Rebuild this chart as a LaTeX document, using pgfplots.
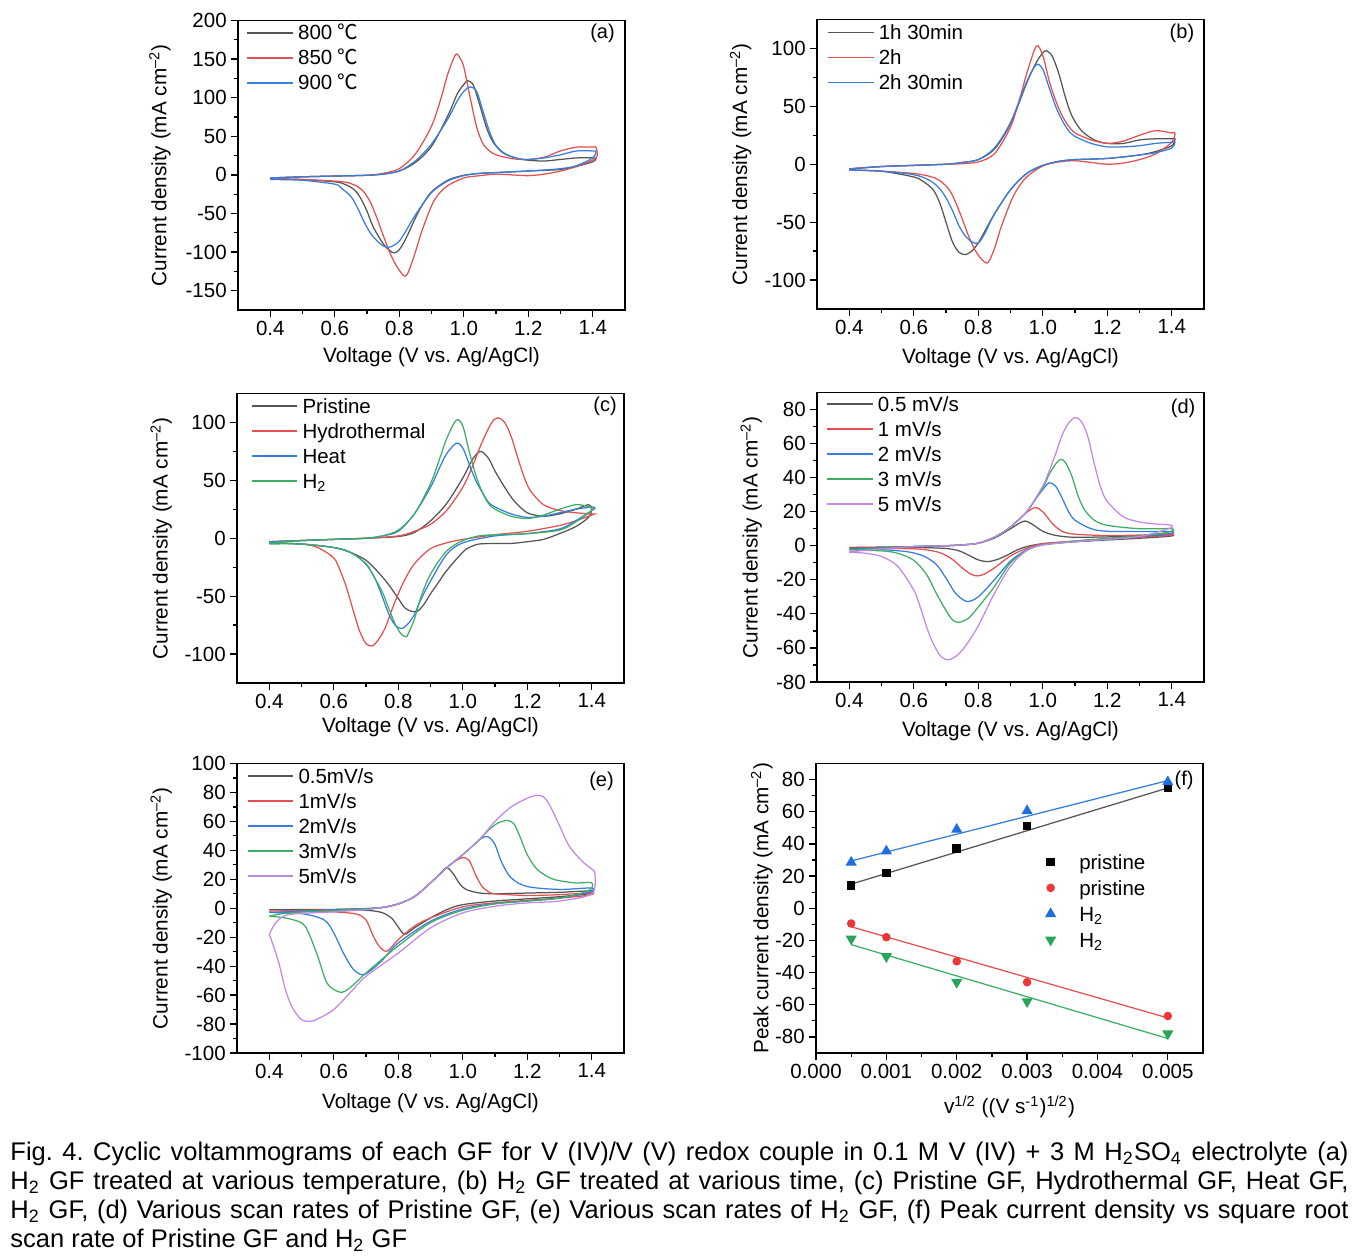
\documentclass[border=0pt]{standalone}
\usepackage{fontspec}
\setmainfont{Liberation Sans}
\newfontfamily\cjk{Noto Sans CJK SC}
\usepackage{pgfplots}
\pgfplotsset{compat=1.18}
\newlength\px \setlength\px{0.4pt}
\frenchspacing
\definecolor{cgray}{RGB}{85,85,85}
\definecolor{cred}{RGB}{228,80,80}
\definecolor{cblue}{RGB}{55,125,220}
\definecolor{cgreen}{RGB}{60,175,100}
\definecolor{cviolet}{RGB}{195,135,230}
\definecolor{mred}{RGB}{235,55,55}
\definecolor{mblue}{RGB}{30,110,225}
\definecolor{mgreen}{RGB}{40,165,90}
\tikzset{plabel/.style={font=\fontsize{8}{9.6}\selectfont, anchor=center}}
\newcommand{\degc}{\hspace{2pt}{\cjk ℃}}
\pgfplotsset{
  panel/.style={
    scale only axis, width=387\px, height=289.5\px, anchor=south west,
    tick pos=left, tick align=outside,
    major tick length=7\px, minor tick length=4\px,
    axis line style={line width=0.5pt},
    every tick/.append style={line width=0.5pt, black},
    tick label style={font=\fontsize{8.2}{9.8}\selectfont},
    xticklabel style={yshift=5\px},
    yticklabel style={xshift=4.5\px},
    label style={font=\fontsize{8.3}{10}\selectfont},
    /pgf/number format/assume math mode=true,
    legend cell align=left,
    legend style={draw=none, fill=none, inner sep=0pt, outer sep=0pt,
      anchor=north west, row sep=3.7pt, column sep=1.8pt,
      nodes={inner sep=0pt, text height=6pt, text depth=0.3pt},
      font=\fontsize{8.2}{9.8}\selectfont},
    legend image code/.code={\draw[##1, line width=0.6pt] (0pt,0pt) -- (45.5\px,0pt);},
    every axis plot/.append style={line width=0.5pt, smooth, tension=0.5},
  },
  cv/.style={panel,
    xmin=0.3, xmax=1.5, xtick={0.4,0.6,0.8,1.0,1.2,1.4},
    xticklabels={0.4,0.6,0.8,1.0,1.2,1.4}, minor x tick num=1,
    xlabel={Voltage (V vs. Ag/AgCl)},
    ylabel={Current density (mA cm\textsuperscript{--2})},
  },
}
\begin{document}
\begin{tikzpicture}
\path[use as bounding box] (0pt,0pt) rectangle (1366\px,1259\px);

% ---------------- (a)
\begin{axis}[cv, at={(238\px,949\px)},
  ymin=-175, ymax=200, ytick={-150,-100,-50,0,50,100,150,200}, minor y tick num=1,
  xlabel style={at={(axis description cs:0.5,-0.1615)}, anchor=center},
  ylabel style={at={(axis description cs:-0.2016,0.5)}, anchor=center},
  legend style={at={(axis description cs:0,1)}, xshift=8.7\px, yshift=-4.4\px}]
\addplot[cgray] coordinates {(0.40,-4) (0.50,-2.5) (0.60,-1.5) (0.70,-0.5) (0.75,1) (0.80,5) (0.85,16) (0.90,37) (0.95,76) (0.98,105) (1.00,117) (1.013,122) (1.03,116) (1.05,90) (1.07,62) (1.09,43) (1.12,29) (1.16,22) (1.20,19) (1.25,18) (1.30,20) (1.35,22) (1.40,22) (1.41,21)
 (1.40,17) (1.35,11) (1.30,7) (1.20,5) (1.10,3) (1.05,2) (1.00,-0.5) (0.95,-7) (0.90,-22) (0.87,-40) (0.85,-56) (0.82,-83) (0.80,-97) (0.785,-101) (0.77,-98) (0.75,-89) (0.72,-68) (0.70,-47) (0.68,-30) (0.66,-19) (0.63,-12) (0.60,-9) (0.50,-6) (0.40,-5)};
\addlegendentry{800\degc}
\addplot[cred] coordinates {(0.40,-4) (0.50,-2.5) (0.60,-1.5) (0.70,-0.5) (0.75,2) (0.80,8) (0.85,27) (0.90,63) (0.93,100) (0.95,130) (0.975,156) (0.99,150) (1.00,140) (1.02,100) (1.04,62) (1.06,40) (1.08,31) (1.10,26) (1.15,21) (1.20,20) (1.25,23) (1.30,31) (1.35,36) (1.40,36) (1.41,36)
 (1.41,22) (1.35,11) (1.30,5) (1.25,1) (1.20,-1) (1.15,0) (1.10,1) (1.05,-1) (1.00,-4) (0.95,-14) (0.92,-26) (0.90,-40) (0.87,-73) (0.85,-100) (0.83,-124) (0.82,-131) (0.81,-129) (0.79,-117) (0.77,-100) (0.75,-78) (0.73,-55) (0.71,-35) (0.69,-22) (0.67,-15) (0.64,-10) (0.60,-8) (0.50,-6) (0.40,-5)};
\addlegendentry{850\degc}
\addplot[cblue] coordinates {(0.40,-4) (0.50,-2.5) (0.60,-1.5) (0.70,-0.5) (0.75,1) (0.80,5) (0.85,18) (0.90,40) (0.95,72) (0.98,96) (1.00,108) (1.02,114) (1.04,108) (1.06,82) (1.08,56) (1.10,38) (1.13,27) (1.17,21) (1.20,20) (1.25,22) (1.30,26) (1.35,31) (1.40,31) (1.41,30)
 (1.40,22) (1.35,12) (1.30,8) (1.20,5) (1.10,3) (1.05,2) (1.00,-1) (0.95,-8) (0.90,-23) (0.85,-52) (0.82,-73) (0.80,-86) (0.78,-92) (0.765,-94) (0.75,-92) (0.73,-85) (0.71,-75) (0.69,-60) (0.67,-42) (0.65,-28) (0.62,-17) (0.60,-12) (0.50,-7) (0.40,-6)};
\addlegendentry{900\degc}
\node[plabel] at (rel axis cs:0.942,0.957) {(a)};
\end{axis}

% ---------------- (b)
\begin{axis}[cv, at={(817\px,950\px)},
  ymin=-125, ymax=125, ytick={-100,-50,0,50,100}, minor y tick num=1,
  xlabel style={at={(axis description cs:0.5,-0.17)}, anchor=center},
  ylabel style={at={(axis description cs:-0.197,0.5)}, anchor=center},
  legend style={at={(axis description cs:0,1)}, xshift=10.3\px, yshift=-5.1\px}]
\addplot[cgray] coordinates {(0.40,-4) (0.50,-2) (0.60,-1) (0.70,0) (0.75,1.5) (0.80,4) (0.85,13) (0.90,35) (0.95,70) (0.98,88) (1.00,96) (1.012,98) (1.03,93) (1.05,78) (1.07,58) (1.09,42) (1.12,29) (1.16,21) (1.20,18) (1.25,18) (1.30,21) (1.35,22) (1.40,22) (1.41,22)
 (1.40,16) (1.35,11) (1.30,8) (1.20,5) (1.10,4) (1.05,2.5) (1.00,-1) (0.95,-8) (0.90,-22) (0.85,-43) (0.82,-58) (0.80,-68) (0.78,-75) (0.76,-78) (0.74,-76) (0.72,-67) (0.70,-50) (0.68,-33) (0.66,-22) (0.63,-15) (0.60,-11) (0.50,-6) (0.40,-5)};
\addlegendentry{1h 30min}
\addplot[cred] coordinates {(0.40,-4) (0.50,-2) (0.60,-1) (0.70,0) (0.75,0.5) (0.80,2) (0.85,9) (0.90,32) (0.93,58) (0.95,78) (0.98,102) (1.00,94) (1.02,72) (1.04,55) (1.06,42) (1.08,33) (1.10,27) (1.15,21) (1.20,18) (1.25,20) (1.30,25) (1.35,29) (1.40,27) (1.41,27)
 (1.40,19) (1.35,9) (1.30,4) (1.25,1) (1.20,0) (1.15,1.5) (1.10,3) (1.05,2) (1.00,-1.5) (0.95,-11) (0.92,-22) (0.90,-33) (0.87,-55) (0.85,-73) (0.83,-85) (0.81,-82) (0.79,-74) (0.77,-62) (0.75,-47) (0.73,-33) (0.71,-22) (0.68,-14) (0.65,-10.5) (0.60,-8) (0.50,-6) (0.40,-5)};
\addlegendentry{2h}
\addplot[cblue] coordinates {(0.40,-4) (0.50,-2) (0.60,-1) (0.70,0) (0.75,1.5) (0.80,4) (0.85,14) (0.90,36) (0.95,71) (0.98,86) (1.00,82) (1.02,66) (1.04,50) (1.06,38) (1.08,29) (1.10,24) (1.15,18) (1.20,15) (1.25,15) (1.30,16) (1.35,18) (1.40,19) (1.41,19)
 (1.40,14) (1.35,10) (1.30,8) (1.20,5) (1.10,4) (1.05,2.5) (1.00,-1) (0.95,-8) (0.90,-22) (0.85,-43) (0.82,-60) (0.80,-68) (0.78,-67) (0.76,-62) (0.74,-53) (0.72,-40) (0.70,-29) (0.68,-21) (0.65,-14) (0.60,-9) (0.50,-6) (0.40,-5)};
\addlegendentry{2h 30min}
\node[plabel] at (rel axis cs:0.943,0.952) {(b)};
\end{axis}

% ---------------- (c)
\begin{axis}[cv, at={(237\px,576\px)},
  ymin=-125, ymax=125, ytick={-100,-50,0,50,100}, minor y tick num=1,
  xlabel style={at={(axis description cs:0.5,-0.152)}, anchor=center},
  ylabel style={at={(axis description cs:-0.196,0.5)}, anchor=center},
  legend style={at={(axis description cs:0,1)}, xshift=14\px, yshift=-4.8\px}]
\addplot[cgray] coordinates {(0.40,-3) (0.50,-2) (0.60,-1) (0.70,0) (0.80,1.5) (0.85,5) (0.90,15) (0.95,30) (1.00,52) (1.03,68) (1.055,75) (1.08,69) (1.10,58) (1.13,44) (1.16,32) (1.20,22) (1.25,19) (1.30,21) (1.35,25) (1.39,29) (1.40,25)
 (1.39,18) (1.35,10) (1.30,4) (1.25,-1) (1.20,-3) (1.15,-4.5) (1.10,-4.5) (1.05,-5) (1.02,-8) (1.00,-12) (0.95,-28) (0.92,-40) (0.90,-48) (0.88,-57) (0.86,-63) (0.84,-63) (0.82,-60) (0.80,-52) (0.77,-40) (0.74,-30) (0.70,-19) (0.65,-12) (0.60,-8) (0.50,-5) (0.40,-4)};
\addlegendentry{Pristine}
\addplot[cred] coordinates {(0.40,-3) (0.50,-2) (0.60,-1) (0.70,0) (0.80,2) (0.85,6) (0.90,12) (0.95,24) (1.00,44) (1.03,62) (1.06,83) (1.09,100) (1.11,104) (1.13,100) (1.15,88) (1.17,70) (1.19,53) (1.21,41) (1.25,29) (1.30,24) (1.35,22) (1.40,21) (1.41,21)
 (1.40,20) (1.35,15) (1.30,11) (1.20,6) (1.10,3) (1.00,-1) (0.95,-4) (0.90,-9) (0.85,-22) (0.82,-36) (0.80,-48) (0.78,-62) (0.76,-77) (0.74,-87) (0.72,-93) (0.70,-91) (0.68,-80) (0.66,-62) (0.64,-43) (0.62,-28) (0.60,-17) (0.55,-8) (0.50,-5) (0.40,-4)};
\addlegendentry{Hydrothermal}
\addplot[cblue] coordinates {(0.40,-3) (0.50,-2) (0.60,-1) (0.70,0) (0.75,2) (0.80,6) (0.85,21) (0.90,44) (0.93,62) (0.95,73) (0.98,82) (1.00,78) (1.02,64) (1.04,50) (1.06,40) (1.08,31) (1.10,27) (1.15,21) (1.20,18) (1.25,19) (1.30,22) (1.35,25) (1.40,27) (1.41,26)
 (1.40,24) (1.35,15) (1.30,8) (1.20,4) (1.10,2) (1.00,-4) (0.95,-14) (0.90,-37) (0.87,-53) (0.85,-66) (0.83,-74) (0.81,-78) (0.79,-75) (0.77,-65) (0.75,-50) (0.73,-36) (0.71,-26) (0.68,-17) (0.65,-12) (0.60,-8) (0.50,-5) (0.40,-4)};
\addlegendentry{Heat}
\addplot[cgreen] coordinates {(0.40,-4) (0.50,-2) (0.60,-1) (0.70,0) (0.75,2) (0.80,7) (0.85,21) (0.90,47) (0.93,70) (0.95,86) (0.98,102) (1.00,97) (1.02,75) (1.04,55) (1.06,40) (1.08,30) (1.10,25) (1.15,19) (1.20,17) (1.25,20) (1.30,25) (1.35,29) (1.38,28) (1.40,26)
 (1.40,24) (1.35,14) (1.30,7) (1.20,4) (1.10,3) (1.05,2) (1.00,-2) (0.95,-11) (0.90,-31) (0.87,-51) (0.85,-70) (0.83,-83) (0.825,-85) (0.81,-83) (0.79,-74) (0.77,-60) (0.75,-46) (0.72,-31) (0.70,-22) (0.65,-12) (0.60,-8) (0.50,-5) (0.40,-5)};
\addlegendentry{H\textsubscript{2}}
\node[plabel] at (rel axis cs:0.951,0.955) {(c)};
\end{axis}

% ---------------- (d)
\begin{axis}[cv, at={(817\px,577\px)},
  ymin=-80, ymax=90, ytick={-80,-60,-40,-20,0,20,40,60,80}, minor y tick num=1,
  xlabel style={at={(axis description cs:0.5,-0.171)}, anchor=center},
  ylabel style={at={(axis description cs:-0.170,0.5)}, anchor=center},
  legend style={at={(axis description cs:0,1)}, xshift=9.4\px, yshift=-3.8\px}]
\addplot[cgray] coordinates {(0.40,-1) (0.60,-0.5) (0.70,0) (0.75,0.5) (0.80,1.5) (0.85,4.5) (0.90,10) (0.93,13.5) (0.945,14.5) (0.96,13.5) (0.98,11) (1.00,8.5) (1.03,6.5) (1.06,5.5) (1.10,5) (1.20,5.2) (1.30,5.8) (1.40,6.3)
 (1.39,5.5) (1.30,4.4) (1.20,3.4) (1.10,2.4) (1.00,1.2) (0.95,-0.5) (0.92,-2.5) (0.89,-5.5) (0.86,-8) (0.83,-9.3) (0.80,-8.3) (0.77,-5.5) (0.74,-3) (0.70,-1.6) (0.60,-1) (0.40,-1)};
\addlegendentry{0.5 mV/s}
\addplot[cred] coordinates {(0.40,-1.5) (0.60,-0.5) (0.70,0) (0.75,0.5) (0.80,1.5) (0.85,5) (0.90,11) (0.94,18) (0.975,22.4) (1.00,20) (1.03,13) (1.06,8.5) (1.10,6.8) (1.20,6) (1.30,6.3) (1.40,7)
 (1.39,6) (1.30,5) (1.20,3.8) (1.10,2.8) (1.00,1.2) (0.95,-1.5) (0.90,-6) (0.85,-13) (0.82,-16.5) (0.80,-17.7) (0.78,-17) (0.75,-13) (0.72,-8) (0.68,-4) (0.62,-2) (0.50,-1.5) (0.40,-1.5)};
\addlegendentry{1 mV/s}
\addplot[cblue] coordinates {(0.40,-2) (0.60,-0.5) (0.70,0) (0.75,0.5) (0.80,1.5) (0.85,5) (0.90,11) (0.95,20) (0.98,28) (1.00,33) (1.02,37) (1.04,35) (1.06,28) (1.08,20) (1.10,15) (1.15,10) (1.20,8.5) (1.30,8.3) (1.40,8.3)
 (1.39,7) (1.30,5.4) (1.20,3.8) (1.10,2.4) (1.00,0.5) (0.95,-2.4) (0.90,-9) (0.85,-20) (0.80,-30) (0.765,-32.7) (0.73,-28) (0.70,-19) (0.67,-11) (0.63,-6) (0.58,-3.5) (0.50,-2.3) (0.40,-2)};
\addlegendentry{2 mV/s}
\addplot[cgreen] coordinates {(0.40,-2.5) (0.60,-0.5) (0.70,0) (0.75,0.5) (0.80,1.5) (0.85,5) (0.90,11) (0.95,20) (1.00,34) (1.02,42) (1.04,48) (1.055,50.7) (1.07,49) (1.09,41) (1.11,29) (1.13,21) (1.16,15) (1.20,12) (1.30,10) (1.40,10)
 (1.39,8) (1.30,5.8) (1.20,4.4) (1.10,2.8) (1.00,0.5) (0.95,-2.8) (0.90,-10) (0.85,-24) (0.80,-36) (0.77,-42.5) (0.74,-45) (0.72,-43.5) (0.70,-38) (0.67,-28) (0.64,-17) (0.60,-8.5) (0.55,-4.4) (0.50,-3) (0.40,-2.5)};
\addlegendentry{3 mV/s}
\addplot[cviolet] coordinates {(0.40,-3.5) (0.60,-0.5) (0.70,0) (0.75,0.5) (0.80,1.5) (0.85,5) (0.90,11) (0.95,20) (1.00,35) (1.02,44) (1.04,54) (1.06,65) (1.08,72) (1.10,75.3) (1.12,73) (1.14,64) (1.16,48) (1.18,34) (1.20,26) (1.25,17) (1.30,14) (1.35,12.8) (1.40,12)
 (1.39,10) (1.30,5.4) (1.20,3.8) (1.10,2.4) (1.00,0.5) (0.95,-2.8) (0.90,-12) (0.85,-28) (0.80,-47) (0.76,-59) (0.73,-65) (0.705,-67) (0.68,-64) (0.65,-53) (0.62,-36) (0.60,-26) (0.55,-12) (0.50,-6.3) (0.45,-4.4) (0.40,-3.8)};
\addlegendentry{5 mV/s}
\node[plabel] at (rel axis cs:0.946,0.945) {(d)};
\end{axis}

% ---------------- (e)
\begin{axis}[cv, at={(237\px,206\px)},
  ymin=-100, ymax=100, ytick={-100,-80,-60,-40,-20,0,20,40,60,80,100}, minor y tick num=1,
  xlabel style={at={(axis description cs:0.5,-0.173)}, anchor=center},
  ylabel style={at={(axis description cs:-0.196,0.5)}, anchor=center},
  legend style={at={(axis description cs:0,1)}, xshift=10\px, yshift=-4.8\px}]
\addplot[cgray] coordinates {(0.40,-1) (0.60,-0.8) (0.70,-0.3) (0.75,0.5) (0.80,3) (0.85,8) (0.90,17.5) (0.93,24) (0.95,28) (0.97,24) (0.99,17) (1.01,13) (1.05,10.6) (1.10,10) (1.20,10.5) (1.30,11) (1.40,12)
 (1.39,10) (1.30,8) (1.20,6.5) (1.10,5) (1.00,2.5) (0.95,-1) (0.90,-6.7) (0.85,-13.6) (0.82,-18) (0.80,-13) (0.78,-7) (0.75,-3) (0.70,-1.4) (0.60,-1) (0.40,-1)};
\addlegendentry{0.5mV/s}
\addplot[cred] coordinates {(0.40,-2) (0.60,-1) (0.70,-0.3) (0.75,0.5) (0.80,3) (0.85,8) (0.90,17.5) (0.95,28) (0.98,33) (1.00,35) (1.02,33) (1.04,23) (1.06,15) (1.08,11.5) (1.10,10) (1.20,8.8) (1.30,9.4) (1.40,10.6)
 (1.39,9) (1.30,7) (1.20,5.5) (1.10,3.7) (1.00,1) (0.90,-6.7) (0.85,-12.4) (0.80,-21.7) (0.765,-29.7) (0.74,-26) (0.72,-18) (0.70,-8) (0.67,-4) (0.60,-2.5) (0.50,-1.8) (0.40,-2)};
\addlegendentry{1mV/s}
\addplot[cblue] coordinates {(0.40,-3) (0.60,-1) (0.70,-0.3) (0.75,0.5) (0.80,3) (0.85,8) (0.90,17.5) (0.95,28) (1.00,37) (1.03,43) (1.06,48.6) (1.08,49.3) (1.10,44) (1.12,32) (1.15,21) (1.20,15) (1.30,13) (1.40,14)
 (1.39,11) (1.30,7) (1.20,5) (1.10,3.2) (1.00,-0.5) (0.90,-9) (0.80,-24) (0.75,-36) (0.72,-42) (0.69,-46) (0.66,-42) (0.63,-31) (0.60,-17) (0.57,-8) (0.50,-3.7) (0.40,-3)};
\addlegendentry{2mV/s}
\addplot[cgreen] coordinates {(0.40,-5.5) (0.45,-3.5) (0.55,-2) (0.65,-1) (0.75,0.5) (0.80,3) (0.85,8) (0.90,17.5) (0.95,28) (1.00,37) (1.05,47) (1.08,54) (1.11,59) (1.14,60.6) (1.16,58) (1.18,48) (1.20,37) (1.23,27) (1.27,21) (1.30,19) (1.35,17.5) (1.40,17.5)
 (1.39,12) (1.30,7) (1.20,5) (1.10,3) (1.00,-1.4) (0.90,-10) (0.80,-26) (0.70,-44.7) (0.65,-55) (0.62,-58) (0.58,-52) (0.55,-33) (0.52,-16) (0.50,-10) (0.45,-6.7) (0.40,-5.5)};
\addlegendentry{3mV/s}
\addplot[cviolet] coordinates {(0.40,-18) (0.42,-10) (0.45,-5) (0.50,-3.5) (0.60,-2.5) (0.70,-1) (0.75,0.5) (0.80,3) (0.85,8) (0.90,17.5) (0.95,28) (1.00,37) (1.05,47) (1.10,60) (1.15,70) (1.20,76) (1.23,78) (1.25,77) (1.27,71) (1.30,57) (1.33,43) (1.37,32.5) (1.40,27) (1.41,24)
 (1.40,10) (1.30,5) (1.20,3.7) (1.10,1.4) (1.00,-3.2) (0.90,-13.6) (0.80,-31) (0.70,-47) (0.65,-58.5) (0.60,-70) (0.55,-76.5) (0.53,-78) (0.50,-77) (0.47,-68) (0.45,-56) (0.43,-38) (0.41,-24) (0.40,-18)};
\addlegendentry{5mV/s}
\node[plabel] at (rel axis cs:0.942,0.939) {(e)};
\end{axis}

% ---------------- (f)
\begin{axis}[panel, at={(816\px,206\px)},
  xmin=0, xmax=0.0055, xtick={0,0.001,0.002,0.003,0.004,0.005},
  xticklabels={0.000,0.001,0.002,0.003,0.004,0.005}, minor x tick num=1,
  scaled x ticks=false,
  ymin=-90, ymax=90, ytick={-80,-60,-40,-20,0,20,40,60,80}, minor y tick num=1,
  xlabel={v\textsuperscript{1/2} ((V s\textsuperscript{-1})\textsuperscript{1/2})},
  ylabel={Peak current density (mA cm\textsuperscript{--2})},
  xlabel style={at={(axis description cs:0.5,-0.187)}, anchor=center},
  ylabel style={at={(axis description cs:-0.140,0.5)}, anchor=center},
  legend image code/.code={\path (-5\px,0pt) (5\px,0pt); \draw[#1] plot coordinates {(0pt,0pt)};},
  legend style={at={(axis description cs:0,1)}, xshift=229\px, yshift=-90.5\px,
    column sep=9.2pt, row sep=4.1pt}]
\addplot[only marks, mark=square*, mark size=1.45pt, black] coordinates {(0.0005,14) (0.001,22) (0.002,37) (0.003,51) (0.005,75)};
\addlegendentry{pristine}
\addplot[only marks, mark=*, mark size=1.45pt, mred] coordinates {(0.0005,-9.5) (0.001,-18) (0.002,-33) (0.003,-46) (0.005,-67)};
\addlegendentry{pristine}
\addplot[only marks, mark=triangle*, mark size=2.1pt, mblue] coordinates {(0.0005,28.5) (0.001,35.5) (0.002,49) (0.003,60.5) (0.005,78.5)};
\addlegendentry{H\textsubscript{2}}
\addplot[only marks, mark=triangle*, mark size=2.1pt, mark options={rotate=180}, mgreen] coordinates {(0.0005,-19) (0.001,-30) (0.002,-46) (0.003,-58) (0.005,-78)};
\addlegendentry{H\textsubscript{2}}
\addplot[forget plot, no marks, sharp plot, cgray, line width=0.5pt] coordinates {(0.0005,15) (0.005,74.8)};
\addplot[forget plot, no marks, sharp plot, cred, line width=0.5pt] coordinates {(0.0005,-11.5) (0.005,-68.2)};
\addplot[forget plot, no marks, sharp plot, cblue, line width=0.5pt] coordinates {(0.0005,29.4) (0.005,79.4)};
\addplot[forget plot, no marks, sharp plot, cgreen, line width=0.5pt] coordinates {(0.0005,-22.6) (0.005,-81)};
\node[plabel] at (rel axis cs:0.951,0.941) {(f)};
\end{axis}

% ---------------- caption
\node[anchor=base west, inner sep=0pt, text width=1338\px, align=justify,
  font=\fontsize{10.2}{11.6}\selectfont] at (10\px,98\px) {%
Fig. 4. Cyclic voltammograms of each GF for V (IV)/V (V) redox couple in 0.1 M V (IV) + 3 M H\textsubscript{2}SO\textsubscript{4} electrolyte (a)\linebreak
H\textsubscript{2} GF treated at various temperature, (b) H\textsubscript{2} GF treated at various time, (c) Pristine GF, Hydrothermal GF, Heat GF,\linebreak
H\textsubscript{2} GF, (d) Various scan rates of Pristine GF, (e) Various scan rates of H\textsubscript{2} GF, (f) Peak current density vs square root\linebreak
scan rate of Pristine GF and H\textsubscript{2} GF};
\end{tikzpicture}
\end{document}
